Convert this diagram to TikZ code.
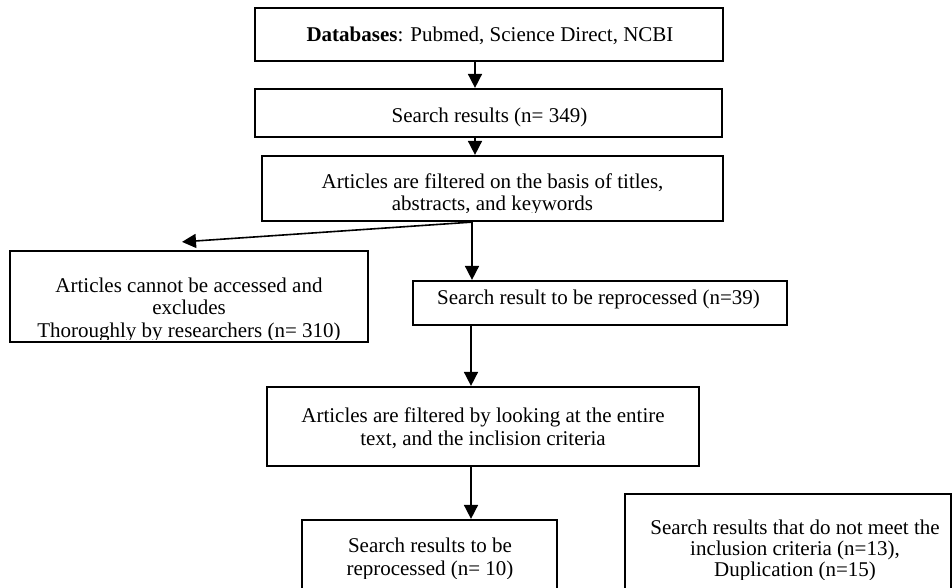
\documentclass[tikz,border=0pt]{standalone}
\usepackage{fontspec}
\setmainfont{Liberation Serif}
\usetikzlibrary{arrows.meta}
\begin{document}
\begin{tikzpicture}[x=1pt,y=-1pt,
  box/.style={draw=black, line width=2.2pt, rectangle, inner sep=0pt},
  sz/.style 2 args={minimum width=#1, minimum height=#2},
  txt/.style={font=\fontsize{21}{22.5}\selectfont, align=center, inner sep=0pt, anchor=base},
  arr/.style={line width=1.6pt, -{Triangle[width=14pt,length=14pt]}}]
\useasboundingbox (0,0) rectangle (952,587);
\clip (0,0) rectangle (952,587);

% boxes
\node[box, sz={468pt}{53pt}] (b1) at (489,34.5) {};
\node[box, sz={467pt}{48pt}] (b2) at (488.5,113) {};
\node[box, sz={461pt}{65pt}] (b3) at (492.5,188.5) {};
\node[box, sz={358pt}{91pt}] (b4) at (189,296.5) {};
\node[box, sz={374pt}{44pt}] (b5) at (600,303) {};
\node[box, sz={432pt}{79pt}] (b6) at (483,426.5) {};
\node[box, sz={255pt}{80pt}] (b7) at (429.5,560) {};
\node[box, sz={326pt}{106pt}] (b8) at (788,547) {};

% texts (anchored on the baseline of the last line; overflowing text is cut)
\node[txt] (t1) at (490,41) {\textbf{Databases}: Pubmed, Science Direct, NCBI};
\node[txt] (t2) at (489.5,122) {Search results (n= 349)};
\begin{scope}
  \clip (262,156) rectangle (723,212.5);
  \node[txt] (t3) at (492.5,210.5) {Articles are filtered on the basis of titles,\\abstracts, and keywords};
\end{scope}
\begin{scope}
  \clip (10,251) rectangle (368,339);
  \node[txt] (t4) at (189,337) {Articles cannot be accessed and\\excludes\\Thoroughly by researchers (n= 310)};
\end{scope}
\node[txt] (t5) at (598.5,304) {Search result to be reprocessed (n=39)};
\node[txt] (t6) at (483,445) {Articles are filtered by looking at the entire\\text, and the inclision criteria};
\begin{scope}
  \clip (302,520) rectangle (557,578);
  \node[txt] (t7) at (430,575) {Search results to be\\reprocessed (n= 10)};
\end{scope}
\begin{scope}
  \clip (625,494) rectangle (951,579);
  \node[txt, font=\fontsize{21}{21}\selectfont] (t8) at (795,576) {Search results that do not meet the\\inclusion criteria (n=13),\\Duplication (n=15)};
\end{scope}

% connectors
\draw[arr] ([xshift=-14pt]b1.south) -- ([xshift=-14pt]b1.south |- b2.north);
\draw[arr] ([xshift=-13.5pt]b2.south) -- ([xshift=-13.5pt]b2.south |- b3.north);
\draw[arr] ([xshift=-20.5pt]b3.south) -- ([xshift=-20.5pt]b3.south |- b5.north);
\draw[arr] ([xshift=-20.5pt]b3.south) -- ([xshift=-7pt,yshift=8pt]b4.north);
\draw[arr] ([xshift=-129pt]b5.south) -- ([xshift=-129pt]b5.south |- b6.north);
\draw[arr] ([xshift=-12pt]b6.south) -- ([xshift=-12pt]b6.south |- b7.north);
\end{tikzpicture}
\end{document}
